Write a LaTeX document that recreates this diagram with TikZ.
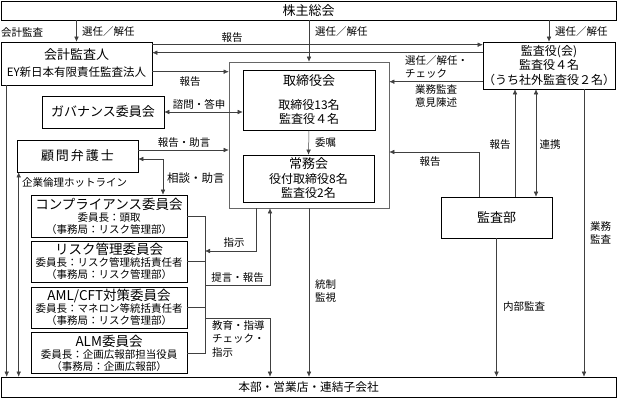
\documentclass[tikz,border=0pt]{standalone}
\usepackage{fontspec}
\setmainfont{Noto Sans CJK JP}
\usetikzlibrary{arrows.meta,positioning}
\tikzset{
  unitbox/.style={draw=black, line width=0.6pt, align=center, inner sep=0pt, font=\fontsize{12}{14.5}\selectfont},
  band/.style={unitbox, minimum width=615pt, minimum height=19pt},
  boardframe/.style={draw=black!60, line width=0.6pt, inner sep=0pt},
  cmte/.style={unitbox, minimum width=156pt, minimum height=41pt, font=\fontsize{10.5}{12}\selectfont},
  link/.style={-{Latex[length=5pt,width=4.5pt]}, line width=0.5pt, draw=black!75},
  twoway/.style={link, {Latex[length=5pt,width=4.5pt]}-{Latex[length=5pt,width=4.5pt]}},
  bare/.style={line width=0.5pt, draw=black!75},
  note/.style={font=\fontsize{10.5}{13.5}\selectfont, inner sep=0pt, align=left}
}

\begin{document}
\begin{tikzpicture}[x=1pt, y=-1pt]
  \useasboundingbox (0,0) rectangle (618,399);

  \node[band, font=\fontsize{13}{15}\selectfont] (meeting) at (308.5,10.5) {株主総会};
  \node[band, minimum height=20pt, font=\fontsize{11.7}{14}\selectfont] (branch) at (308.5,387) {本部・営業店・連結子会社};

  \node[unitbox, minimum width=151pt, minimum height=43pt, font=\fontsize{11.5}{17}\selectfont] (auditor) at (76.5,63.5) {{\fontsize{13}{17}\selectfont 会計監査人}\\EY新日本有限責任監査法人};
  \node[unitbox, minimum width=132pt, minimum height=47pt] (statutory) at (549,65.5) {監査役(会)\\監査役４名\\（うち社外監査役２名）};

  \node[boardframe, minimum width=160pt, minimum height=146pt] (board) at (309,135) {};
  \node[unitbox, minimum width=132pt, minimum height=60pt] (directors) at (309,100) {{\fontsize{13}{15}\selectfont 取締役会}\\[9pt]取締役13名\\監査役４名};
  \node[unitbox, minimum width=131pt, minimum height=47pt] (managing) at (308.5,178.5) {{\fontsize{13}{15}\selectfont 常務会}\\役付取締役8名\\監査役2名};

  \node[unitbox, minimum width=122pt, minimum height=32pt, font=\fontsize{13}{15}\selectfont] (governance) at (103,112) {ガバナンス委員会};
  \node[unitbox, minimum width=121pt, minimum height=32pt, font=\fontsize{13}{15}\selectfont] (counsel) at (77.5,156) {顧\hspace{2pt}問\hspace{2pt}弁\hspace{2pt}護\hspace{2pt}士};

  \node[cmte, minimum height=42pt] (compliance) at (109,216) {{\fontsize{13.5}{12}\selectfont コンプライアンス委員会}\\委員長：頭取\\（事務局：リスク管理部）};
  \node[cmte] (risk) at (109,261.5) {{\fontsize{13.5}{12}\selectfont リスク管理委員会}\\委員長：リスク管理統括責任者\\（事務局：リスク管理部）};
  \node[cmte] (aml) at (109,307.5) {{\fontsize{13.5}{12}\selectfont AML/CFT対策委員会}\\委員長：マネロン等統括責任者\\（事務局：リスク管理部）};
  \node[cmte] (alm) at (109,353) {{\fontsize{13.5}{12}\selectfont ALM委員会}\\委員長：企画広報部担当役員\\（事務局：企画広報部）};

  \node[unitbox, minimum width=111pt, minimum height=41pt, font=\fontsize{13}{15}\selectfont] (internal) at (496.5,217.5) {監査部};

  \coordinate (bus) at ([xshift=18pt]compliance.east);
  \coordinate (cmd) at (205,251);
  \coordinate (proposal) at (205,285);
  \coordinate (guidance) at (205,318);
  \coordinate (drop) at ([xshift=-39pt]board.south);

  \draw[link] (meeting.south -| auditor.north) -- (auditor.north);
  \draw[link] (meeting.south -| board.north) -- (board.north);
  \draw[link] (meeting.south -| statutory.north) -- (statutory.north);
  \node[note, anchor=west] (elect1) at (82,32) {選任／解任};
  \node[note, anchor=west] (elect2) at (315,32) {選任／解任};
  \node[note, anchor=west] (elect3) at (555,32) {選任／解任};
  \node[note, anchor=west] (acct) at (1,33) {会計監査};

  \draw[link] ([yshift=-3pt]auditor.north east) -- ([yshift=-3pt]auditor.north east -| statutory.west);
  \draw[link] ([yshift=-11pt]statutory.north west) -- ([yshift=-11pt]statutory.north west -| auditor.east);
  \node[note] (rep1) at (232,38) {報告};
  \draw[link] ([yshift=-30pt]auditor.north east) -- ([yshift=-30pt]auditor.north east -| board.west);
  \node[note] (rep2) at (190,82) {報告};

  \draw[link] ([yshift=-40pt]statutory.north west) -- ([yshift=-40pt]statutory.north west -| board.east);
  \node[note, anchor=west] (check) at (405,67) {選任／解任・\\チェック};
  \node[note, anchor=west] (opinion) at (415,96) {業務監査\\意見陳述};

  \draw[twoway] (governance.east) -- (governance.east -| directors.west);
  \node[note] (consult) at (199,104) {諮問・答申};
  \draw[link] ([yshift=6pt]counsel.east) -- ([yshift=6pt]counsel.east -| board.west);
  \node[note] (advice1) at (184,143) {報告・助言};
  \draw[twoway] ([yshift=-3pt]counsel.east) -| ([xshift=54pt]compliance.north);
  \node[note, anchor=west, font=\fontsize{11.5}{13}\selectfont] (advice2) at (167,178) {相談・助言};

  \draw[link] (directors.south) -- (managing.north);
  \node[note, anchor=west] (entrust) at (315,143) {委嘱};

  \draw[link] ([xshift=6pt]auditor.south west) -- ([xshift=6pt]auditor.south west |- branch.north);
  \draw[twoway] ([xshift=2pt]counsel.south west) -- ([xshift=2pt]counsel.south west |- branch.north);
  \node[note, anchor=west] (hotline) at (22,182) {企業倫理ホットライン};

  \draw[bare] (compliance.east) -- (bus) -- (bus |- alm.east) -- (alm.east);
  \draw[bare] (risk.east) -- (risk.east -| bus);
  \draw[bare] (aml.east) -- (aml.east -| bus);
  \draw[link] ([xshift=-53pt]board.south) |- (cmd);
  \node[note] (instr) at (234,243) {指示};
  \draw[link] (proposal) -| (drop);
  \node[note] (propose) at (237.5,278) {提言・報告};
  \draw[link] (guidance) -| (drop |- branch.north);
  \node[note, anchor=north west] (educate) at (212,320) {教育・指導\\チェック・\\指示};

  \draw[link] (board.south) -- (board.south |- branch.north);
  \node[note, anchor=west] (control) at (315,291) {統制\\監視};

  \draw[link] ([xshift=18.5pt]internal.north) -- ([xshift=18.5pt]internal.north |- statutory.south);
  \node[note] (rep3) at (500,145) {報告};
  \draw[twoway] ([xshift=39.5pt]internal.north |- statutory.south) -- ([xshift=39.5pt]internal.north);
  \node[note] (coop) at (550,145) {連携};
  \draw[link] ([xshift=-17.5pt]internal.north) |- ([yshift=-17pt]board.east);
  \node[note] (rep4) at (430,162) {報告};
  \draw[link] (internal.south) -- (internal.south |- branch.north);
  \node[note] (audit) at (524,307) {内部監査};
  \draw[link] ([xshift=35pt]statutory.south) -- ([xshift=35pt]statutory.south |- branch.north);
  \node[note, anchor=west] (ops) at (590,233) {業務\\監査};
\end{tikzpicture}
\end{document}
